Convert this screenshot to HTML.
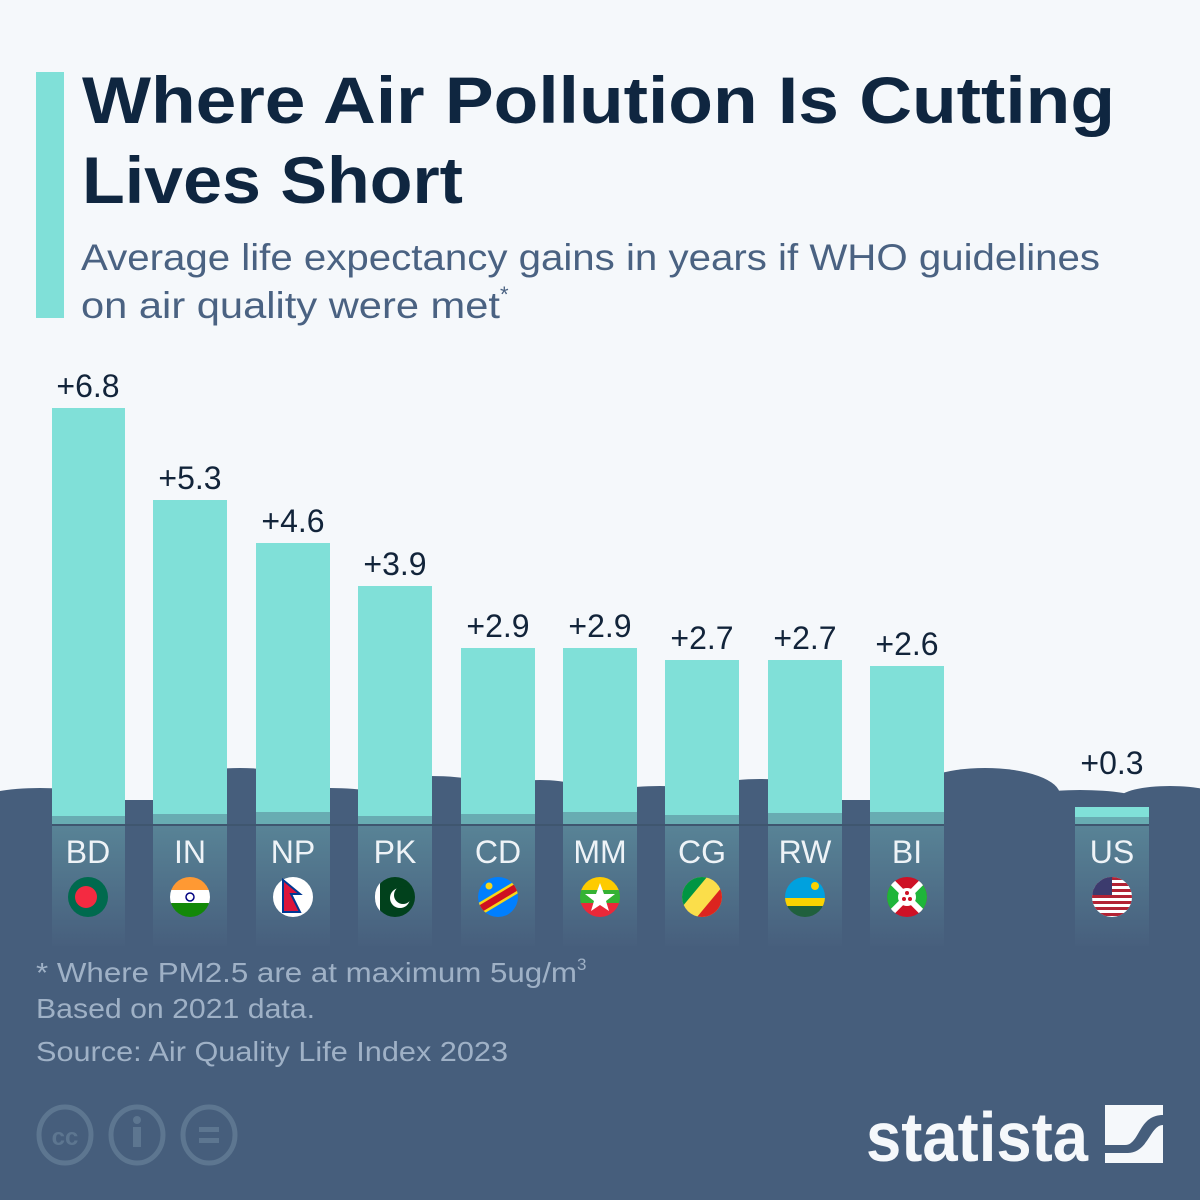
<!DOCTYPE html><html><head><meta charset="utf-8"><style>
body{margin:0;width:1200px;height:1200px;overflow:hidden;background:#f5f8fb;font-family:"Liberation Sans",sans-serif}
svg{display:block}
</style></head><body>
<svg width="1200" height="1200" viewBox="0 0 1200 1200" xmlns="http://www.w3.org/2000/svg">
<defs><linearGradient id="col" x1="0" y1="0" x2="0" y2="1"><stop offset="0" stop-color="#588396"/><stop offset="1" stop-color="#475f7d"/></linearGradient></defs>
<rect x="36" y="72" width="28" height="246" fill="#80e0d8"/>
<text x="82" y="123" font-size="66" font-weight="bold" fill="#0f2640" textLength="1033" lengthAdjust="spacingAndGlyphs">Where Air Pollution Is Cutting</text>
<text x="82" y="203" font-size="66" font-weight="bold" fill="#0f2640" textLength="381" lengthAdjust="spacingAndGlyphs">Lives Short</text>
<text x="81" y="270" font-size="37" fill="#4a6282" textLength="1019" lengthAdjust="spacingAndGlyphs">Average life expectancy gains in years if WHO guidelines</text>
<text x="81" y="318" font-size="37" fill="#4a6282"><tspan textLength="419" lengthAdjust="spacingAndGlyphs">on air quality were met</tspan><tspan font-size="22" dy="-16">*</tspan></text>
<g fill="#465e7c">
<rect x="0" y="800" width="1200" height="400"/>
<ellipse cx="40" cy="800" rx="60" ry="12"/>
<ellipse cx="240" cy="790" rx="70" ry="22"/>
<ellipse cx="330" cy="800" rx="60" ry="12"/>
<ellipse cx="430" cy="792" rx="70" ry="16"/>
<ellipse cx="540" cy="795" rx="50" ry="15"/>
<ellipse cx="660" cy="798" rx="60" ry="12"/>
<ellipse cx="760" cy="793" rx="60" ry="14"/>
<ellipse cx="985" cy="795" rx="75" ry="27"/>
<ellipse cx="1080" cy="800" rx="60" ry="10"/>
<ellipse cx="1170" cy="798" rx="50" ry="12"/>
</g>
<g fill="#80e0d8">
<rect x="52" y="408" width="73" height="418"/>
<rect x="153" y="500" width="74" height="326"/>
<rect x="256" y="543" width="74" height="283"/>
<rect x="358" y="586" width="74" height="240"/>
<rect x="461" y="648" width="74" height="178"/>
<rect x="563" y="648" width="74" height="178"/>
<rect x="665" y="660" width="74" height="166"/>
<rect x="768" y="660" width="74" height="166"/>
<rect x="870" y="666" width="74" height="160"/>
<rect x="1075" y="807" width="74" height="19"/>
</g>
<g fill="url(#col)">
<rect x="52" y="826" width="73" height="120"/>
<rect x="153" y="826" width="74" height="120"/>
<rect x="256" y="826" width="74" height="120"/>
<rect x="358" y="826" width="74" height="120"/>
<rect x="461" y="826" width="74" height="120"/>
<rect x="563" y="826" width="74" height="120"/>
<rect x="665" y="826" width="74" height="120"/>
<rect x="768" y="826" width="74" height="120"/>
<rect x="870" y="826" width="74" height="120"/>
<rect x="1075" y="826" width="74" height="120"/>
</g>
<g fill="#68acb2">
<rect x="52" y="816" width="73" height="10"/><rect x="153" y="814" width="74" height="12"/><rect x="256" y="812" width="74" height="14"/><rect x="358" y="816" width="74" height="10"/><rect x="461" y="814" width="74" height="12"/><rect x="563" y="812" width="74" height="14"/><rect x="665" y="815" width="74" height="11"/><rect x="768" y="813" width="74" height="13"/><rect x="870" y="812" width="74" height="14"/><rect x="1075" y="817" width="74" height="9"/>
</g>
<g stroke="#3f566f" stroke-width="2"><line x1="52" y1="825" x2="944" y2="825"/><line x1="1075" y1="825" x2="1149" y2="825"/></g>
<g font-size="32" fill="#12243a" text-anchor="middle">
<text x="88" y="397">+6.8</text><text x="190" y="489">+5.3</text><text x="293" y="532">+4.6</text><text x="395" y="575">+3.9</text><text x="498" y="637">+2.9</text><text x="600" y="637">+2.9</text><text x="702" y="649">+2.7</text><text x="805" y="649">+2.7</text><text x="907" y="655">+2.6</text><text x="1112" y="774">+0.3</text>
</g>
<g font-size="32" fill="#eef3f7" text-anchor="middle">
<text x="88" y="863">BD</text><text x="190" y="863">IN</text><text x="293" y="863">NP</text><text x="395" y="863">PK</text><text x="498" y="863">CD</text><text x="600" y="863">MM</text><text x="702" y="863">CG</text><text x="805" y="863">RW</text><text x="907" y="863">BI</text><text x="1112" y="863">US</text>
</g>
<circle cx="88" cy="897" r="20" fill="#006a4e"/><circle cx="86" cy="897" r="11" fill="#f42a41"/>
<clipPath id="c2"><circle cx="190" cy="897" r="20"/></clipPath><g clip-path="url(#c2)"><rect x="170" y="877" width="40" height="14" fill="#ff9933"/><rect x="170" y="890" width="40" height="14" fill="#fff"/><rect x="170" y="903" width="40" height="14" fill="#138808"/><circle cx="190" cy="897" r="4" fill="none" stroke="#000080" stroke-width="1.5"/></g>
<circle cx="293" cy="897" r="20" fill="#fff"/><path d="M283 880 L300 894 L291 894 L300 912 L283 912 Z" fill="#dc143c" stroke="#003893" stroke-width="2"/>
<circle cx="395" cy="897" r="20" fill="#01411c"/><path d="M375 897 a20 20 0 0 1 5 -14 v28 a20 20 0 0 1 -5 -14z" fill="#fff"/><circle cx="400" cy="898" r="10" fill="#fff"/><circle cx="403" cy="895" r="9" fill="#01411c"/>
<clipPath id="c5"><circle cx="498" cy="897" r="20"/></clipPath><g clip-path="url(#c5)"><rect x="478" y="877" width="40" height="40" fill="#007fff"/><path d="M470 915 L520 885" stroke="#f7d618" stroke-width="12"/><path d="M470 915 L520 885" stroke="#ce1021" stroke-width="7"/><circle cx="489" cy="886" r="3.5" fill="#f7d618"/></g>
<clipPath id="c6"><circle cx="600" cy="897" r="20"/></clipPath><g clip-path="url(#c6)"><rect x="580" y="877" width="40" height="14" fill="#fecb00"/><rect x="580" y="890" width="40" height="14" fill="#34b233"/><rect x="580" y="903" width="40" height="14" fill="#ea2839"/><polygon points="600,883 604,894 615,894 606,901 609,911 600,905 591,911 594,901 585,894 596,894" fill="#fff"/></g>
<clipPath id="c7"><circle cx="702" cy="897" r="20"/></clipPath><g clip-path="url(#c7)"><rect x="682" y="877" width="40" height="40" fill="#fbde4a"/><polygon points="682,877 707,877 682,907" fill="#009543"/><polygon points="722,917 697,917 722,887" fill="#dc241f"/></g>
<clipPath id="c8"><circle cx="805" cy="897" r="20"/></clipPath><g clip-path="url(#c8)"><rect x="785" y="877" width="40" height="22" fill="#00a1de"/><rect x="785" y="898" width="40" height="9" fill="#fad201"/><rect x="785" y="906" width="40" height="12" fill="#20603d"/><circle cx="815" cy="886" r="4" fill="#fad201"/></g>
<clipPath id="c9"><circle cx="907" cy="897" r="20"/></clipPath><g clip-path="url(#c9)"><rect x="887" y="877" width="40" height="40" fill="#ce1126"/><polygon points="887,877 907,897 887,917" fill="#1eb53a"/><polygon points="927,877 907,897 927,917" fill="#1eb53a"/><path d="M887 877 L927 917 M927 877 L887 917" stroke="#fff" stroke-width="6"/><circle cx="907" cy="897" r="9" fill="#fff"/><circle cx="907" cy="893" r="2" fill="#ce1126"/><circle cx="904" cy="899" r="2" fill="#ce1126"/><circle cx="910" cy="899" r="2" fill="#ce1126"/></g>
<clipPath id="c10"><circle cx="1112" cy="897" r="20"/></clipPath><g clip-path="url(#c10)"><rect x="1092" y="877" width="40" height="40" fill="#fff"/><g fill="#b22234"><rect x="1092" y="877" width="40" height="3"/><rect x="1092" y="883" width="40" height="3"/><rect x="1092" y="889" width="40" height="3"/><rect x="1092" y="895" width="40" height="3"/><rect x="1092" y="901" width="40" height="3"/><rect x="1092" y="907" width="40" height="3"/><rect x="1092" y="913" width="40" height="3"/></g><rect x="1092" y="877" width="20" height="18" fill="#3c3b6e"/></g>
<g font-size="28" fill="#9fb1c6">
<text x="36" y="982"><tspan textLength="541" lengthAdjust="spacingAndGlyphs">* Where PM2.5 are at maximum 5ug/m</tspan><tspan font-size="17" dy="-12">3</tspan></text>
<text x="36" y="1018" textLength="279" lengthAdjust="spacingAndGlyphs">Based on 2021 data.</text>
<text x="36" y="1061" textLength="472" lengthAdjust="spacingAndGlyphs">Source: Air Quality Life Index 2023</text>
</g>
<g fill="none" stroke="#5d7690" stroke-width="5">
<ellipse cx="65" cy="1135" rx="26" ry="28"/><ellipse cx="137" cy="1135" rx="26" ry="28"/><ellipse cx="209" cy="1135" rx="26" ry="28"/>
</g>
<text x="65" y="1145" font-size="24" font-weight="bold" fill="#5d7690" text-anchor="middle">cc</text>
<circle cx="137" cy="1120" r="4" fill="#5d7690"/><rect x="133" y="1127" width="8" height="20" fill="#5d7690"/>
<rect x="199" y="1127" width="20" height="5" fill="#5d7690"/><rect x="199" y="1138" width="20" height="5" fill="#5d7690"/>
<text x="1088" y="1161" font-size="70" font-weight="bold" fill="#f5f8fb" text-anchor="end" textLength="222" lengthAdjust="spacingAndGlyphs">statista</text>
<rect x="1105" y="1105" width="58" height="58" fill="#f5f8fb"/>
<path d="M1105 1145 L1125 1145 C1140 1145 1138 1115 1163 1115 L1163 1125 C1150 1125 1148 1153 1128 1153 L1105 1153 Z" fill="#465e7c"/>
</svg>
</body></html>
